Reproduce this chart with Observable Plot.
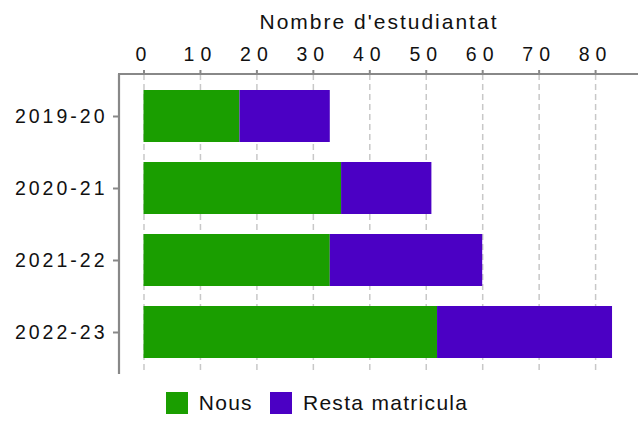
<!DOCTYPE html>
<html>
<head>
<meta charset="utf-8">
<script src="https://cdn.jsdelivr.net/npm/d3@7"></script>
<script src="https://cdn.jsdelivr.net/npm/@observablehq/plot@0.6"></script>
<style>
  html, body { margin: 0; padding: 0; background: #fff; }
  body { width: 638px; height: 421px; overflow: hidden; font-family: "Liberation Sans", Arial, sans-serif; }
  #legend { display: flex; justify-content: center; align-items: center; height: 36px; margin-left: -4px; }
  .item { display: flex; align-items: center; font-size: 21px; letter-spacing: 1.3px; color: #111; }
  .item + .item { margin-left: 17px; }
  .swatch { width: 22px; height: 22px; margin-right: 11px; }
</style>
</head>
<body>
<div id="chart"></div>
<div id="legend"></div>
<script>
// ---- data ----
const years = ["2019-20", "2020-21", "2021-22", "2022-23"];
const seriesNames = ["Nous", "Resta matricula"];
const nous = [17, 35, 33, 52];
const resta = [16, 16, 27, 31];
const colors = ["#1a9e00", "#4b00c4"];
const xTicks = [0, 10, 20, 30, 40, 50, 60, 70, 80];
const xLabel = "Nombre d'estudiantat";

const rows = years.flatMap((y, i) => [
  {year: y, series: seriesNames[0], value: nous[i]},
  {year: y, series: seriesNames[1], value: resta[i]}
]);

function axisLines(index, scales, values, dim) {
  const {width, height, marginLeft, marginTop, marginBottom} = dim;
  const g = d3.create("svg:g").attr("stroke", "#888").attr("stroke-width", 2.2);
  g.append("line").attr("x1", marginLeft - 1).attr("x2", width).attr("y1", marginTop).attr("y2", marginTop);
  g.append("line").attr("x1", marginLeft).attr("x2", marginLeft).attr("y1", marginTop).attr("y2", height - marginBottom);
  return g.node();
}

const chart = Plot.plot({
  width: 638,
  height: 385,
  marginLeft: 119,
  marginRight: 0,
  marginTop: 74,
  marginBottom: 11,
  style: {fontFamily: "Liberation Sans, Arial, sans-serif", fontSize: "19.5px", color: "#111", background: "#fff"},
  x: {
    domain: [-4.34, 87.6],
    axis: "top",
    ticks: xTicks,
    tickSize: 5,
    tickPadding: 9,
    label: xLabel,
    labelAnchor: "center",
    labelArrow: "none",
    labelOffset: 60
  },
  y: {
    domain: years,
    paddingInner: 0.284,
    paddingOuter: 0.206,
    tickSize: 6,
    tickPadding: 6,
    label: null
  },
  color: {domain: seriesNames, range: colors},
  marks: [
    Plot.ruleX(xTicks, {stroke: "#c8c8c8", strokeWidth: 1.5, strokeDasharray: "6,4"}),
    Plot.barX(rows, Plot.stackX({y: "year", x: "value", fill: "series", inset: 0})),
    axisLines
  ]
});

document.getElementById("chart").appendChild(chart);

// styling of axes
const svg = d3.select(chart);
svg.selectAll('g[aria-label="x-axis tick"], g[aria-label="y-axis tick"]').attr("stroke", "#888").attr("stroke-width", 2);
svg.selectAll('g[aria-label="x-axis tick label"] text').style("letter-spacing", "6px");
svg.selectAll('g[aria-label="y-axis tick label"] text').style("letter-spacing", "3px");
svg.selectAll('g[aria-label="x-axis label"] text').style("letter-spacing", "2px").style("font-size", "21px");

// legend
const legend = d3.select("#legend");
seriesNames.forEach((name, i) => {
  const item = legend.append("div").attr("class", "item");
  item.append("div").attr("class", "swatch").style("background", colors[i]);
  item.append("span").text(name);
});
</script>
</body>
</html>
